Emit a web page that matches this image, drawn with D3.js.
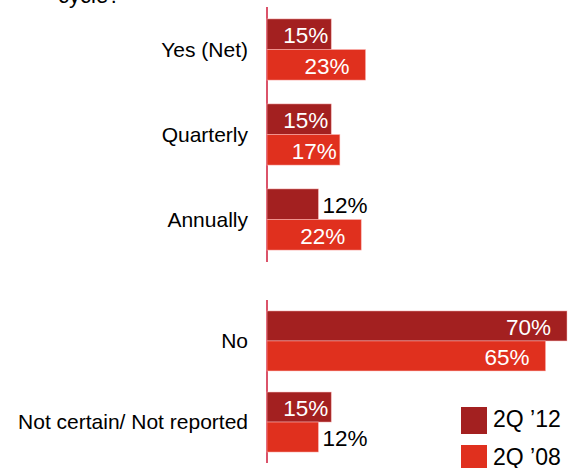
<!DOCTYPE html>
<html>
<head>
<meta charset="utf-8">
<script src="https://cdn.jsdelivr.net/npm/d3@7"></script>
<style>
  html, body { margin: 0; padding: 0; background: #fff; }
  svg { display: block; font-family: "Liberation Sans", Arial, sans-serif; }
</style>
</head>
<body>
<svg id="chart" width="573" height="468"></svg>
<script>
// Survey answers, split into two panels
const categoriesTop = ["Yes (Net)", "Quarterly", "Annually"];
const categoriesBottom = ["No", "Not certain/ Not reported"];
const seriesNames = ["2Q \u201912", "2Q \u201908"];
const values2Q12 = [15, 15, 12, 70, 15];
const values2Q08 = [23, 17, 22, 65, 12];
const titleTail = "cycle?";

const colors = ["#a32020", "#e0301e"];
const axisColor = "#db536a";

const svg = d3.select("#chart");

const x = d3.scaleLinear().domain([0, 70]).range([267, 567]);

const rows = categoriesTop.concat(categoriesBottom).map((c, i) => ({
  cat: c,
  panel: i < categoriesTop.length ? 0 : 1,
  vals: [values2Q12[i], values2Q08[i]]
}));

const yTop = d3.scaleBand().domain(categoriesTop).range([7, 262])
  .paddingInner(0.28).paddingOuter(0.14);
const yBottom = d3.scaleBand().domain(categoriesBottom).range([300, 463])
  .paddingInner(0.26).paddingOuter(0.135);
const yScales = [yTop, yBottom];

// title (last line only shows at the top edge)
svg.append("text")
  .attr("x", 58).attr("y", 3)
  .attr("font-size", 22).attr("fill", "#000")
  .text(titleTail);

// axis spines for each panel
yScales.forEach(ys => {
  const [r0, r1] = ys.range();
  svg.append("line")
    .attr("x1", x(0)).attr("x2", x(0))
    .attr("y1", r0).attr("y2", r1)
    .attr("stroke", axisColor).attr("stroke-width", 2);
});

const valFont = 22.5;

rows.forEach(r => {
  const ys = yScales[r.panel];
  const y0 = ys(r.cat);
  const bh = ys.bandwidth() / 2;
  const g = svg.append("g");

  // category label
  g.append("text")
    .attr("x", 248)
    .attr("y", y0 + ys.bandwidth() / 2 + 7)
    .attr("text-anchor", "end")
    .attr("font-size", 21).attr("fill", "#000")
    .text(r.cat);

  r.vals.forEach((v, k) => {
    const by = y0 + k * bh;
    g.append("rect")
      .attr("x", x(0)).attr("y", by)
      .attr("width", x(v) - x(0)).attr("height", bh)
      .attr("fill", colors[k])
      .attr("stroke", "rgba(255,190,190,0.6)").attr("stroke-width", 0.8);

    const t = g.append("text")
      .attr("y", by + bh / 2 + valFont * 0.36 + 1)
      .attr("font-size", valFont)
      .text(v + "%");
    const tw = t.node().getComputedTextLength();
    const bw = x(v) - x(0);
    if (bw < tw + 8) {
      t.attr("x", x(v) + 4).attr("fill", "#000");
    } else {
      const inset = v >= 20 ? 16 : 3;
      t.attr("x", x(v) - inset).attr("text-anchor", "end").attr("fill", "#fff");
    }
  });
});

// legend
const legend = svg.append("g");
seriesNames.forEach((name, k) => {
  const ly = 407 + k * 38;
  legend.append("rect")
    .attr("x", 461).attr("y", ly)
    .attr("width", 26).attr("height", 27)
    .attr("fill", colors[k]);
  legend.append("text")
    .attr("x", 493).attr("y", ly + 20)
    .attr("font-size", 23).attr("fill", "#000")
    .text(name);
});
</script>
</body>
</html>
